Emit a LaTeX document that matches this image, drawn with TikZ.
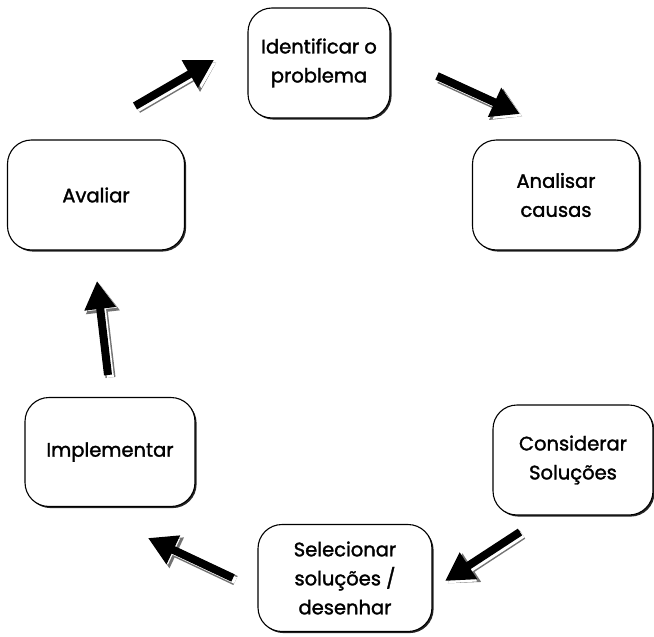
\documentclass[tikz,border=0pt]{standalone}
\usepackage{fontspec}
\setmainfont{Poppins}[FakeBold=1.6]
\usetikzlibrary{arrows.meta,shadows,positioning}

\begin{document}
\begin{tikzpicture}[
    x=1pt, y=-1pt,
    stage/.style={draw, rounded corners=24pt, line width=1.1pt, fill=white, align=center,
        font=\fontsize{19.5}{29}\selectfont, inner sep=4pt,
        drop shadow={shadow xshift=1.6pt, shadow yshift=-1.6pt, fill=black!85, opacity=1}},
    bigarrow/.style={line width=8pt, -{Triangle[length=28pt,width=30pt]},
        preaction={draw=black!55, line width=10pt, -{Triangle[length=29pt,width=32pt]}, transform canvas={shift={(2.5pt,-2.5pt)}}},
        preaction={draw=white, line width=7pt, -{Triangle[length=26pt,width=27pt]}, transform canvas={shift={(2.5pt,-2.5pt)}}}}
]

\useasboundingbox (0,0) rectangle (654,637);

% Stages of the cycle
\node[stage, minimum width=142pt, minimum height=110pt] (ident) at (319,63) {Identificar o\\problema};
\node[stage, minimum width=167pt, minimum height=110pt] (anal) at (556,195) {Analisar\\causas};
\node[stage, minimum width=160pt, minimum height=110pt] (cons) at (573,460) {Considerar\\Soluções};
\node[stage, minimum width=174pt, minimum height=107pt] (sel) at (345,578) {Selecionar\\soluções /\\desenhar};
\node[stage, minimum width=170pt, minimum height=109pt] (impl) at (110,452) {Implementar};
\node[stage, minimum width=177pt, minimum height=110pt] (aval) at (96,195) {Avaliar};

% Arrow ends
\coordinate (a1s) at (135,106);
\coordinate (a1e) at (214,60);
\coordinate (a2s) at (437,76);
\coordinate (a2e) at (520,114);
\coordinate (a3s) at (520,532);
\coordinate (a3e) at (445,581);
\coordinate (a4s) at (233,578);
\coordinate (a4e) at (148,538);
\coordinate (a5s) at (108,375);
\coordinate (a5e) at (97,281);

% Arrows
\draw[bigarrow] (a1s) -- (a1e);
\draw[bigarrow] (a2s) -- (a2e);
\draw[bigarrow] (a3s) -- (a3e);
\draw[bigarrow] (a4s) -- (a4e);
\draw[bigarrow] (a5s) -- (a5e);

\end{tikzpicture}
\end{document}
